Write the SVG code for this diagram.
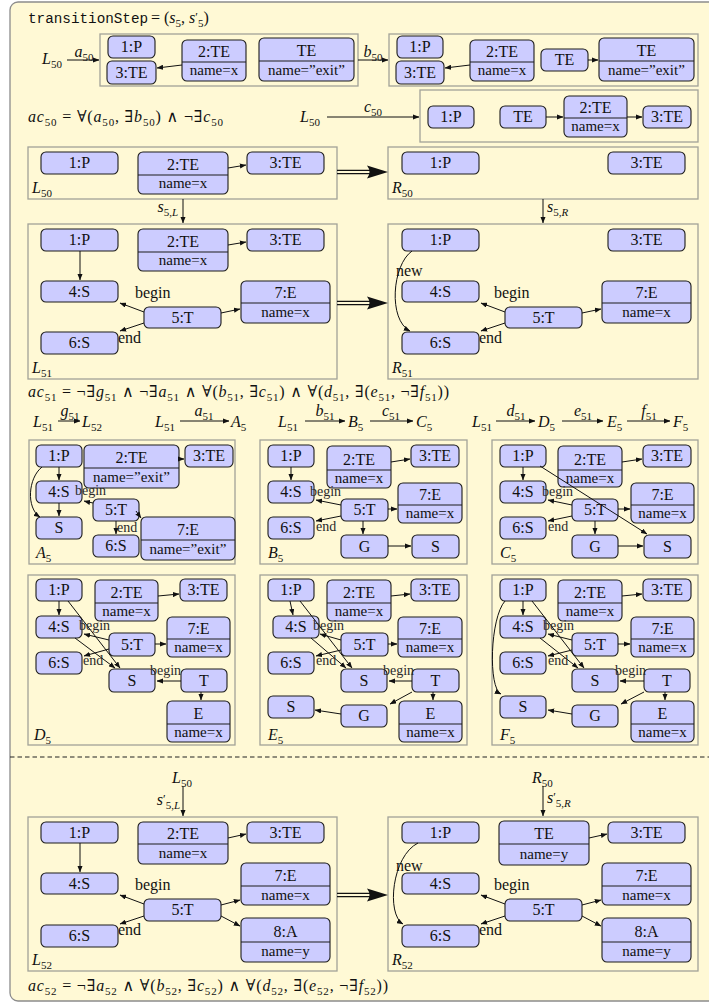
<svg xmlns="http://www.w3.org/2000/svg" width="709" height="1004" viewBox="0 0 709 1004">
<style>
text{font-family:"Liberation Serif","DejaVu Serif",serif;fill:#111}
.n{fill:#ccccff;stroke:#1c1c1c;stroke-width:1.1;rx:5px;ry:5px}
.dv{stroke:#1c1c1c;stroke-width:1.1}
.gb{fill:#fff9d5;stroke:#a2a298;stroke-width:1.3}
.t{font-size:16px;text-anchor:middle}
.tn{font-size:15px;text-anchor:middle}
.m{font-size:16px}
.i{font-style:italic}
.s{font-size:11px;baseline-shift:-3.5px}
.p{font-size:12px;baseline-shift:2px}
.c{text-anchor:middle}
.lb{font-size:16px}
.ls{font-size:14px;fill:#2a2a2a}
.e{fill:none;stroke:#111;stroke-width:1;marker-end:url(#ah)}
</style>
<defs>
<marker id="ah" viewBox="0 0 10 8" refX="9.5" refY="4" markerWidth="6.5" markerHeight="5.2" markerUnits="userSpaceOnUse" orient="auto"><path d="M0,0 L10,4 L0,8 Z" fill="#111"/></marker>
<g id="impl"><path d="M0,-1.7 H33 M0,1.7 H33" stroke="#111" stroke-width="1.2" fill="none"/><path d="M51,0 L30,-6.5 Q35,0 30,6.5 Z" fill="#111"/></g>
</defs>

<!-- sheet -->
<rect x="10" y="2" width="720" height="999" rx="8" fill="#fff9d5" stroke="#8c8c8c" stroke-width="1.3"/>

<!-- header -->
<text x="28" y="23" style="font-family:'Liberation Mono','DejaVu Sans Mono',monospace;font-size:14.3px">transitionStep</text>
<text class="m" x="151" y="23">= (<tspan class="i">s</tspan><tspan class="s">5</tspan>, <tspan class="i">s</tspan><tspan class="p">′</tspan><tspan class="s">5</tspan>)</text>

<!-- graph frames -->
<g id="box-a50"><rect class="gb" x="100" y="34" width="258" height="52"/></g>
<g id="box-b50"><rect class="gb" x="389" y="34" width="309" height="52"/></g>
<g id="box-c50"><rect class="gb" x="420" y="90" width="278" height="52"/></g>
<g id="box-L50"><rect class="gb" x="28" y="147" width="309" height="52"/><text class="m" x="32" y="193"><tspan class="i">L</tspan><tspan class="s">50</tspan></text></g>
<g id="box-R50"><rect class="gb" x="388" y="147" width="310" height="52"/><text class="m" x="392" y="193"><tspan class="i">R</tspan><tspan class="s">50</tspan></text></g>
<g id="box-L51"><rect class="gb" x="28" y="224" width="309" height="155"/><text class="m" x="32" y="373"><tspan class="i">L</tspan><tspan class="s">51</tspan></text></g>
<g id="box-R51"><rect class="gb" x="388" y="224" width="310" height="155"/><text class="m" x="392" y="373"><tspan class="i">R</tspan><tspan class="s">51</tspan></text></g>
<g id="box-A5"><rect class="gb" x="29" y="440" width="206" height="124"/><text class="m" x="36" y="558"><tspan class="i">A</tspan><tspan class="s">5</tspan></text></g>
<g id="box-B5"><rect class="gb" x="260" y="440" width="207" height="124"/><text class="m" x="268" y="558"><tspan class="i">B</tspan><tspan class="s">5</tspan></text></g>
<g id="box-C5"><rect class="gb" x="492" y="440" width="206" height="124"/><text class="m" x="500" y="558"><tspan class="i">C</tspan><tspan class="s">5</tspan></text></g>
<g id="box-D5"><rect class="gb" x="28" y="575" width="207" height="170"/><text class="m" x="34" y="740"><tspan class="i">D</tspan><tspan class="s">5</tspan></text></g>
<g id="box-E5"><rect class="gb" x="260" y="575" width="207" height="170"/><text class="m" x="268" y="740"><tspan class="i">E</tspan><tspan class="s">5</tspan></text></g>
<g id="box-F5"><rect class="gb" x="492" y="575" width="206" height="170"/><text class="m" x="500" y="740"><tspan class="i">F</tspan><tspan class="s">5</tspan></text></g>
<g id="box-L52"><rect class="gb" x="28" y="817" width="309" height="154"/><text class="m" x="32" y="965"><tspan class="i">L</tspan><tspan class="s">52</tspan></text></g>
<g id="box-R52"><rect class="gb" x="388" y="817" width="310" height="154"/><text class="m" x="392" y="965"><tspan class="i">R</tspan><tspan class="s">52</tspan></text></g>

<!-- formulas and morphism labels -->
<g id="formulas">
<text class="m" x="42" y="64"><tspan class="i">L</tspan><tspan class="s">50</tspan></text>
<text class="m c" x="84" y="57"><tspan class="i">a</tspan><tspan class="s">50</tspan></text>
<text class="m c" x="373" y="57"><tspan class="i">b</tspan><tspan class="s">50</tspan></text>
<text class="m" x="28" y="122" textLength="195"><tspan class="i">ac</tspan><tspan class="s">50</tspan> = ∀(<tspan class="i">a</tspan><tspan class="s">50</tspan>, ∃<tspan class="i">b</tspan><tspan class="s">50</tspan>) ∧ ¬∃<tspan class="i">c</tspan><tspan class="s">50</tspan></text>
<text class="m" x="300" y="122"><tspan class="i">L</tspan><tspan class="s">50</tspan></text>
<text class="m c" x="373" y="112"><tspan class="i">c</tspan><tspan class="s">50</tspan></text>
<text class="m" x="178" y="212" text-anchor="end"><tspan class="i">s</tspan><tspan class="s">5,<tspan class="i">L</tspan></tspan></text>
<text class="m" x="547" y="212"><tspan class="i">s</tspan><tspan class="s">5,<tspan class="i">R</tspan></tspan></text>
<text class="m" x="28" y="397" textLength="421"><tspan class="i">ac</tspan><tspan class="s">51</tspan> = ¬∃<tspan class="i">g</tspan><tspan class="s">51</tspan> ∧ ¬∃<tspan class="i">a</tspan><tspan class="s">51</tspan> ∧ ∀(<tspan class="i">b</tspan><tspan class="s">51</tspan>, ∃<tspan class="i">c</tspan><tspan class="s">51</tspan>) ∧ ∀(<tspan class="i">d</tspan><tspan class="s">51</tspan>, ∃(<tspan class="i">e</tspan><tspan class="s">51</tspan>, ¬∃<tspan class="i">f</tspan><tspan class="s">51</tspan>))</text>
<text class="m" x="33" y="427"><tspan class="i">L</tspan><tspan class="s">51</tspan></text>
<text class="m c" x="70" y="416"><tspan class="i">g</tspan><tspan class="s">51</tspan></text>
<text class="m" x="82" y="427"><tspan class="i">L</tspan><tspan class="s">52</tspan></text>
<text class="m" x="155" y="427"><tspan class="i">L</tspan><tspan class="s">51</tspan></text>
<text class="m c" x="204" y="416"><tspan class="i">a</tspan><tspan class="s">51</tspan></text>
<text class="m" x="231" y="427"><tspan class="i">A</tspan><tspan class="s">5</tspan></text>
<text class="m" x="278" y="427"><tspan class="i">L</tspan><tspan class="s">51</tspan></text>
<text class="m c" x="325" y="416"><tspan class="i">b</tspan><tspan class="s">51</tspan></text>
<text class="m" x="348" y="427"><tspan class="i">B</tspan><tspan class="s">5</tspan></text>
<text class="m c" x="391" y="416"><tspan class="i">c</tspan><tspan class="s">51</tspan></text>
<text class="m" x="416" y="427"><tspan class="i">C</tspan><tspan class="s">5</tspan></text>
<text class="m" x="472" y="427"><tspan class="i">L</tspan><tspan class="s">51</tspan></text>
<text class="m c" x="516" y="416"><tspan class="i">d</tspan><tspan class="s">51</tspan></text>
<text class="m" x="538" y="427"><tspan class="i">D</tspan><tspan class="s">5</tspan></text>
<text class="m c" x="583" y="416"><tspan class="i">e</tspan><tspan class="s">51</tspan></text>
<text class="m" x="607" y="427"><tspan class="i">E</tspan><tspan class="s">5</tspan></text>
<text class="m c" x="649" y="416"><tspan class="i">f</tspan><tspan class="s">51</tspan></text>
<text class="m" x="673" y="427"><tspan class="i">F</tspan><tspan class="s">5</tspan></text>
<text class="m" x="172" y="783"><tspan class="i">L</tspan><tspan class="s">50</tspan></text>
<text class="m" x="180" y="805" text-anchor="end"><tspan class="i">s</tspan><tspan class="p">′</tspan><tspan class="s">5,<tspan class="i">L</tspan></tspan></text>
<text class="m" x="532" y="783"><tspan class="i">R</tspan><tspan class="s">50</tspan></text>
<text class="m" x="547" y="803"><tspan class="i">s</tspan><tspan class="p">′</tspan><tspan class="s">5,<tspan class="i">R</tspan></tspan></text>
<text class="m" x="28" y="991" textLength="360"><tspan class="i">ac</tspan><tspan class="s">52</tspan> = ¬∃<tspan class="i">a</tspan><tspan class="s">52</tspan> ∧ ∀(<tspan class="i">b</tspan><tspan class="s">52</tspan>, ∃<tspan class="i">c</tspan><tspan class="s">52</tspan>) ∧ ∀(<tspan class="i">d</tspan><tspan class="s">52</tspan>, ∃(<tspan class="i">e</tspan><tspan class="s">52</tspan>, ¬∃<tspan class="i">f</tspan><tspan class="s">52</tspan>))</text>
</g>

<!-- nodes: a50 -->
<g id="a50-1P"><rect class="n" x="108" y="36" width="47" height="22"/><text class="t" x="131.5" y="52">1:P</text></g>
<g id="a50-3TE"><rect class="n" x="107" y="61" width="49" height="23"/><text class="t" x="131.5" y="78">3:TE</text></g>
<g id="a50-2TE"><rect class="n" x="182" y="40" width="64" height="41"/><line class="dv" x1="182" y1="62" x2="246" y2="62"/><text class="t" x="214" y="57">2:TE</text><text class="tn" x="214" y="75">name=x</text></g>
<g id="a50-TE"><rect class="n" x="259" y="38" width="95" height="43"/><line class="dv" x1="259" y1="61" x2="354" y2="61"/><text class="t" x="306.5" y="56">TE</text><text class="tn" x="306.5" y="75">name=”exit”</text></g>
<!-- nodes: b50 -->
<g id="b50-1P"><rect class="n" x="397" y="36" width="46" height="22"/><text class="t" x="420" y="52">1:P</text></g>
<g id="b50-3TE"><rect class="n" x="396" y="61" width="48" height="23"/><text class="t" x="420" y="78">3:TE</text></g>
<g id="b50-2TE"><rect class="n" x="470" y="40" width="64" height="41"/><line class="dv" x1="470" y1="62" x2="534" y2="62"/><text class="t" x="502" y="57">2:TE</text><text class="tn" x="502" y="75">name=x</text></g>
<g id="b50-TE"><rect class="n" x="541" y="49" width="47" height="22"/><text class="t" x="564.5" y="65">TE</text></g>
<g id="b50-TEx"><rect class="n" x="599" y="38" width="95" height="43"/><line class="dv" x1="599" y1="61" x2="694" y2="61"/><text class="t" x="646.5" y="56">TE</text><text class="tn" x="646.5" y="75">name=”exit”</text></g>
<!-- nodes: c50 -->
<g id="c50-1P"><rect class="n" x="428" y="106" width="46" height="22"/><text class="t" x="451" y="122">1:P</text></g>
<g id="c50-TE"><rect class="n" x="500" y="106" width="46" height="22"/><text class="t" x="523" y="122">TE</text></g>
<g id="c50-2TE"><rect class="n" x="564" y="96" width="63" height="41"/><line class="dv" x1="564" y1="118" x2="627" y2="118"/><text class="t" x="595.5" y="113">2:TE</text><text class="tn" x="595.5" y="131">name=x</text></g>
<g id="c50-3TE"><rect class="n" x="643" y="106" width="48" height="22"/><text class="t" x="667" y="122">3:TE</text></g>
<!-- nodes: L50 / R50 -->
<g id="L50-1P"><rect class="n" x="41" y="152" width="77" height="22"/><text class="t" x="79.5" y="168">1:P</text></g>
<g id="L50-2TE"><rect class="n" x="138" y="152" width="90" height="42"/><line class="dv" x1="138" y1="175" x2="228" y2="175"/><text class="t" x="183" y="170">2:TE</text><text class="tn" x="183" y="188">name=x</text></g>
<g id="L50-3TE"><rect class="n" x="247" y="152" width="77" height="22"/><text class="t" x="285.5" y="168">3:TE</text></g>
<g id="R50-1P"><rect class="n" x="402" y="152" width="77" height="22"/><text class="t" x="440.5" y="168">1:P</text></g>
<g id="R50-3TE"><rect class="n" x="608" y="152" width="77" height="22"/><text class="t" x="646.5" y="168">3:TE</text></g>
<!-- nodes: L51 -->
<g id="L51-1P"><rect class="n" x="41" y="229" width="77" height="22"/><text class="t" x="79.5" y="245">1:P</text></g>
<g id="L51-2TE"><rect class="n" x="138" y="229" width="90" height="42"/><line class="dv" x1="138" y1="252" x2="228" y2="252"/><text class="t" x="183" y="247">2:TE</text><text class="tn" x="183" y="265">name=x</text></g>
<g id="L51-3TE"><rect class="n" x="247" y="229" width="77" height="22"/><text class="t" x="285.5" y="245">3:TE</text></g>
<g id="L51-4S"><rect class="n" x="41" y="281" width="77" height="21"/><text class="t" x="79.5" y="297">4:S</text></g>
<g id="L51-5T"><rect class="n" x="144" y="307" width="77" height="21"/><text class="t" x="182.5" y="323">5:T</text></g>
<g id="L51-7E"><rect class="n" x="241" y="281" width="89" height="42"/><line class="dv" x1="241" y1="303" x2="330" y2="303"/><text class="t" x="285.5" y="298">7:E</text><text class="tn" x="285.5" y="317">name=x</text></g>
<g id="L51-6S"><rect class="n" x="41" y="332" width="77" height="22"/><text class="t" x="79.5" y="348">6:S</text></g>
<!-- nodes: R51 -->
<g id="R51-1P"><rect class="n" x="402" y="229" width="77" height="22"/><text class="t" x="440.5" y="245">1:P</text></g>
<g id="R51-3TE"><rect class="n" x="608" y="229" width="77" height="22"/><text class="t" x="646.5" y="245">3:TE</text></g>
<g id="R51-4S"><rect class="n" x="402" y="281" width="77" height="21"/><text class="t" x="440.5" y="297">4:S</text></g>
<g id="R51-5T"><rect class="n" x="505" y="307" width="77" height="21"/><text class="t" x="543.5" y="323">5:T</text></g>
<g id="R51-7E"><rect class="n" x="602" y="281" width="89" height="42"/><line class="dv" x1="602" y1="303" x2="691" y2="303"/><text class="t" x="646.5" y="298">7:E</text><text class="tn" x="646.5" y="317">name=x</text></g>
<g id="R51-6S"><rect class="n" x="402" y="332" width="77" height="22"/><text class="t" x="440.5" y="348">6:S</text></g>
<!-- nodes: A5 -->
<g id="A5-1P"><rect class="n" x="36" y="445" width="46" height="22"/><text class="t" x="59" y="461">1:P</text></g>
<g id="A5-2TE"><rect class="n" x="84" y="445" width="95" height="43"/><line class="dv" x1="84" y1="468" x2="179" y2="468"/><text class="t" x="131.5" y="463">2:TE</text><text class="tn" x="131.5" y="482">name=”exit”</text></g>
<g id="A5-3TE"><rect class="n" x="185" y="445" width="48" height="22"/><text class="t" x="209" y="461">3:TE</text></g>
<g id="A5-4S"><rect class="n" x="36" y="481" width="46" height="22"/><text class="t" x="59" y="497">4:S</text></g>
<g id="A5-S"><rect class="n" x="36" y="517" width="46" height="22"/><text class="t" x="59" y="533">S</text></g>
<g id="A5-5T"><rect class="n" x="93" y="499" width="46" height="22"/><text class="t" x="116" y="515">5:T</text></g>
<g id="A5-6S"><rect class="n" x="93" y="535" width="46" height="22"/><text class="t" x="116" y="551">6:S</text></g>
<g id="A5-7E"><rect class="n" x="141" y="517" width="94" height="43"/><line class="dv" x1="141" y1="540" x2="235" y2="540"/><text class="t" x="188" y="535">7:E</text><text class="tn" x="188" y="554">name=”exit”</text></g>
<!-- nodes: B5 -->
<g id="B5-1P"><rect class="n" x="268" y="445" width="46" height="22"/><text class="t" x="291" y="461">1:P</text></g>
<g id="B5-2TE"><rect class="n" x="327" y="446" width="64" height="42"/><line class="dv" x1="327" y1="470" x2="391" y2="470"/><text class="t" x="359" y="465">2:TE</text><text class="tn" x="359" y="483">name=x</text></g>
<g id="B5-3TE"><rect class="n" x="411" y="445" width="48" height="22"/><text class="t" x="435" y="461">3:TE</text></g>
<g id="B5-4S"><rect class="n" x="268" y="481" width="46" height="22"/><text class="t" x="291" y="497">4:S</text></g>
<g id="B5-5T"><rect class="n" x="341" y="499" width="47" height="22"/><text class="t" x="364.5" y="515">5:T</text></g>
<g id="B5-7E"><rect class="n" x="398" y="483" width="64" height="40"/><line class="dv" x1="398" y1="505" x2="462" y2="505"/><text class="t" x="430" y="500">7:E</text><text class="tn" x="430" y="518">name=x</text></g>
<g id="B5-6S"><rect class="n" x="268" y="517" width="46" height="22"/><text class="t" x="291" y="533">6:S</text></g>
<g id="B5-G"><rect class="n" x="341" y="535" width="47" height="23"/><text class="t" x="364.5" y="552">G</text></g>
<g id="B5-S"><rect class="n" x="412" y="535" width="47" height="23"/><text class="t" x="435.5" y="552">S</text></g>
<!-- nodes: C5 -->
<g id="C5-1P"><rect class="n" x="500" y="445" width="46" height="22"/><text class="t" x="523" y="461">1:P</text></g>
<g id="C5-2TE"><rect class="n" x="558" y="446" width="64" height="41"/><line class="dv" x1="558" y1="470" x2="622" y2="470"/><text class="t" x="590" y="465">2:TE</text><text class="tn" x="590" y="483">name=x</text></g>
<g id="C5-3TE"><rect class="n" x="643" y="445" width="48" height="22"/><text class="t" x="667" y="461">3:TE</text></g>
<g id="C5-4S"><rect class="n" x="500" y="481" width="46" height="22"/><text class="t" x="523" y="497">4:S</text></g>
<g id="C5-5T"><rect class="n" x="572" y="499" width="46" height="22"/><text class="t" x="595" y="515">5:T</text></g>
<g id="C5-7E"><rect class="n" x="631" y="483" width="63" height="40"/><line class="dv" x1="631" y1="505" x2="694" y2="505"/><text class="t" x="662.5" y="500">7:E</text><text class="tn" x="662.5" y="518">name=x</text></g>
<g id="C5-6S"><rect class="n" x="500" y="517" width="46" height="22"/><text class="t" x="523" y="533">6:S</text></g>
<g id="C5-G"><rect class="n" x="572" y="535" width="46" height="23"/><text class="t" x="595" y="552">G</text></g>
<g id="C5-S"><rect class="n" x="644" y="535" width="47" height="23"/><text class="t" x="667.5" y="552">S</text></g>
<!-- nodes: D5 -->
<g id="D5-1P"><rect class="n" x="36" y="579" width="46" height="22"/><text class="t" x="59" y="595">1:P</text></g>
<g id="D5-2TE"><rect class="n" x="95" y="580" width="63" height="41"/><line class="dv" x1="95" y1="603" x2="158" y2="603"/><text class="t" x="126.5" y="598">2:TE</text><text class="tn" x="126.5" y="616">name=x</text></g>
<g id="D5-3TE"><rect class="n" x="180" y="579" width="47" height="22"/><text class="t" x="203.5" y="595">3:TE</text></g>
<g id="D5-4S"><rect class="n" x="36" y="616" width="46" height="22"/><text class="t" x="59" y="632">4:S</text></g>
<g id="D5-5T"><rect class="n" x="109" y="633" width="46" height="23"/><text class="t" x="132" y="650">5:T</text></g>
<g id="D5-7E"><rect class="n" x="167" y="617" width="63" height="40"/><line class="dv" x1="167" y1="639" x2="230" y2="639"/><text class="t" x="198.5" y="634">7:E</text><text class="tn" x="198.5" y="652">name=x</text></g>
<g id="D5-6S"><rect class="n" x="36" y="652" width="46" height="22"/><text class="t" x="59" y="668">6:S</text></g>
<g id="D5-S"><rect class="n" x="109" y="669" width="46" height="23"/><text class="t" x="132" y="686">S</text></g>
<g id="D5-T"><rect class="n" x="181" y="669" width="46" height="23"/><text class="t" x="204" y="686">T</text></g>
<g id="D5-E"><rect class="n" x="167" y="701" width="63" height="41"/><line class="dv" x1="167" y1="724" x2="230" y2="724"/><text class="t" x="198.5" y="719">E</text><text class="tn" x="198.5" y="737">name=x</text></g>
<!-- nodes: E5 -->
<g id="E5-1P"><rect class="n" x="268" y="579" width="46" height="22"/><text class="t" x="291" y="595">1:P</text></g>
<g id="E5-2TE"><rect class="n" x="327" y="580" width="64" height="41"/><line class="dv" x1="327" y1="603" x2="391" y2="603"/><text class="t" x="359" y="598">2:TE</text><text class="tn" x="359" y="616">name=x</text></g>
<g id="E5-3TE"><rect class="n" x="411" y="579" width="48" height="22"/><text class="t" x="435" y="595">3:TE</text></g>
<g id="E5-4S"><rect class="n" x="273" y="616" width="46" height="22"/><text class="t" x="296" y="632">4:S</text></g>
<g id="E5-5T"><rect class="n" x="341" y="633" width="47" height="23"/><text class="t" x="364.5" y="650">5:T</text></g>
<g id="E5-7E"><rect class="n" x="398" y="617" width="64" height="40"/><line class="dv" x1="398" y1="639" x2="462" y2="639"/><text class="t" x="430" y="634">7:E</text><text class="tn" x="430" y="652">name=x</text></g>
<g id="E5-6S"><rect class="n" x="268" y="652" width="46" height="22"/><text class="t" x="291" y="668">6:S</text></g>
<g id="E5-S"><rect class="n" x="341" y="669" width="46" height="23"/><text class="t" x="364" y="686">S</text></g>
<g id="E5-T"><rect class="n" x="412" y="669" width="47" height="23"/><text class="t" x="435.5" y="686">T</text></g>
<g id="E5-E"><rect class="n" x="399" y="701" width="63" height="41"/><line class="dv" x1="399" y1="724" x2="462" y2="724"/><text class="t" x="430.5" y="719">E</text><text class="tn" x="430.5" y="737">name=x</text></g>
<g id="E5-S2"><rect class="n" x="268" y="696" width="46" height="22"/><text class="t" x="291" y="712">S</text></g>
<g id="E5-G"><rect class="n" x="341" y="705" width="46" height="22"/><text class="t" x="364" y="721">G</text></g>
<!-- nodes: F5 -->
<g id="F5-1P"><rect class="n" x="500" y="579" width="46" height="22"/><text class="t" x="523" y="595">1:P</text></g>
<g id="F5-2TE"><rect class="n" x="558" y="580" width="64" height="41"/><line class="dv" x1="558" y1="603" x2="622" y2="603"/><text class="t" x="590" y="598">2:TE</text><text class="tn" x="590" y="616">name=x</text></g>
<g id="F5-3TE"><rect class="n" x="643" y="579" width="48" height="22"/><text class="t" x="667" y="595">3:TE</text></g>
<g id="F5-4S"><rect class="n" x="500" y="616" width="46" height="22"/><text class="t" x="523" y="632">4:S</text></g>
<g id="F5-5T"><rect class="n" x="572" y="633" width="46" height="23"/><text class="t" x="595" y="650">5:T</text></g>
<g id="F5-7E"><rect class="n" x="631" y="617" width="63" height="40"/><line class="dv" x1="631" y1="639" x2="694" y2="639"/><text class="t" x="662.5" y="634">7:E</text><text class="tn" x="662.5" y="652">name=x</text></g>
<g id="F5-6S"><rect class="n" x="500" y="652" width="46" height="22"/><text class="t" x="523" y="668">6:S</text></g>
<g id="F5-S"><rect class="n" x="572" y="669" width="46" height="23"/><text class="t" x="595" y="686">S</text></g>
<g id="F5-T"><rect class="n" x="644" y="669" width="46" height="23"/><text class="t" x="667" y="686">T</text></g>
<g id="F5-E"><rect class="n" x="631" y="701" width="63" height="41"/><line class="dv" x1="631" y1="724" x2="694" y2="724"/><text class="t" x="662.5" y="719">E</text><text class="tn" x="662.5" y="737">name=x</text></g>
<g id="F5-S2"><rect class="n" x="500" y="696" width="46" height="22"/><text class="t" x="523" y="712">S</text></g>
<g id="F5-G"><rect class="n" x="572" y="705" width="46" height="22"/><text class="t" x="595" y="721">G</text></g>
<!-- nodes: L52 -->
<g id="L52-1P"><rect class="n" x="41" y="822" width="77" height="21"/><text class="t" x="79.5" y="838">1:P</text></g>
<g id="L52-2TE"><rect class="n" x="138" y="822" width="90" height="42"/><line class="dv" x1="138" y1="844" x2="228" y2="844"/><text class="t" x="183" y="839">2:TE</text><text class="tn" x="183" y="858">name=x</text></g>
<g id="L52-3TE"><rect class="n" x="247" y="822" width="77" height="21"/><text class="t" x="285.5" y="838">3:TE</text></g>
<g id="L52-4S"><rect class="n" x="41" y="873" width="77" height="21"/><text class="t" x="79.5" y="889">4:S</text></g>
<g id="L52-7E"><rect class="n" x="241" y="863" width="89" height="42"/><line class="dv" x1="241" y1="886" x2="330" y2="886"/><text class="t" x="285.5" y="881">7:E</text><text class="tn" x="285.5" y="900">name=x</text></g>
<g id="L52-5T"><rect class="n" x="144" y="899" width="77" height="22"/><text class="t" x="182.5" y="915">5:T</text></g>
<g id="L52-8A"><rect class="n" x="241" y="918" width="89" height="44"/><line class="dv" x1="241" y1="942" x2="330" y2="942"/><text class="t" x="285.5" y="937">8:A</text><text class="tn" x="285.5" y="956">name=y</text></g>
<g id="L52-6S"><rect class="n" x="41" y="925" width="77" height="22"/><text class="t" x="79.5" y="941">6:S</text></g>
<!-- nodes: R52 -->
<g id="R52-1P"><rect class="n" x="402" y="822" width="77" height="21"/><text class="t" x="440.5" y="838">1:P</text></g>
<g id="R52-TE"><rect class="n" x="499" y="821" width="90" height="44"/><line class="dv" x1="499" y1="844" x2="589" y2="844"/><text class="t" x="544" y="839">TE</text><text class="tn" x="544" y="859">name=y</text></g>
<g id="R52-3TE"><rect class="n" x="608" y="822" width="77" height="21"/><text class="t" x="646.5" y="838">3:TE</text></g>
<g id="R52-4S"><rect class="n" x="402" y="873" width="77" height="21"/><text class="t" x="440.5" y="889">4:S</text></g>
<g id="R52-7E"><rect class="n" x="602" y="863" width="89" height="42"/><line class="dv" x1="602" y1="886" x2="691" y2="886"/><text class="t" x="646.5" y="881">7:E</text><text class="tn" x="646.5" y="900">name=x</text></g>
<g id="R52-5T"><rect class="n" x="505" y="899" width="77" height="22"/><text class="t" x="543.5" y="915">5:T</text></g>
<g id="R52-8A"><rect class="n" x="602" y="918" width="89" height="44"/><line class="dv" x1="602" y1="942" x2="691" y2="942"/><text class="t" x="646.5" y="937">8:A</text><text class="tn" x="646.5" y="956">name=y</text></g>
<g id="R52-6S"><rect class="n" x="402" y="925" width="77" height="22"/><text class="t" x="440.5" y="941">6:S</text></g>

<!-- separator -->
<line x1="10" y1="757" x2="709" y2="757" stroke="#222" stroke-width="1.1" stroke-dasharray="4.5 3"/>

<!-- connectors -->
<g id="connectors">
<path class="e" d="M67,60 L99,60"/>
<path class="e" d="M358,60 L388,60"/>
<path class="e" d="M327,117 L419,117"/>
<path class="e" d="M182,65 L157,68"/>
<path class="e" d="M470,65 L445,68"/>
<path class="e" d="M588,60 L598,60"/>
<path class="e" d="M546,117 L563,117"/>
<path class="e" d="M627,117 L642,117"/>
<path class="e" d="M228,168 L246,165"/>
<use href="#impl" x="337" y="172"/>
<path class="e" d="M183,199 L183,223"/>
<path class="e" d="M543,199 L543,223"/>
<!-- L51 -->
<path class="e" d="M228,245 L246,242"/>
<path class="e" d="M80,251 L80,280"/>
<path class="e" d="M144,312 L120,303"/>
<path class="e" d="M144,323 L120,331"/>
<path class="e" d="M221,313 L240,309"/>
<text class="lb" x="135" y="298">begin</text>
<text class="lb" x="118" y="343">end</text>
<use href="#impl" x="337" y="303"/>
<!-- R51 -->
<path class="e" d="M505,312 L481,303"/>
<path class="e" d="M505,323 L481,331"/>
<path class="e" d="M582,313 L601,309"/>
<path class="e" d="M412,251 C392,265 388,320 410,331"/>
<text class="lb" x="396" y="276">new</text>
<text class="lb" x="494" y="298">begin</text>
<text class="lb" x="479" y="343">end</text>
<!-- morphism row -->
<path class="e" d="M58,421 L80,421"/>
<path class="e" d="M180,421 L229,421"/>
<path class="e" d="M305,421 L345,421"/>
<path class="e" d="M370,421 L413,421"/>
<path class="e" d="M496,421 L535,421"/>
<path class="e" d="M562,421 L603,421"/>
<path class="e" d="M627,421 L670,421"/>
<!-- A5 -->
<path class="e" d="M59,467 L59,480"/>
<path class="e" d="M59,503 L59,516"/>
<path class="e" d="M42,467 C28,478 26,508 40,517"/>
<path class="e" d="M178,459 L184,459"/>
<path class="e" d="M93,503 L84,501"/>
<path class="e" d="M136,511 L141,518"/>
<path class="e" d="M116,521 L116,534"/>
<text class="ls" x="75" y="495">begin</text>
<text class="ls" x="117" y="532">end</text>
<!-- B5 -->
<path class="e" d="M291,467 L291,480"/>
<path class="e" d="M391,462 L410,459"/>
<path class="e" d="M341,505 L316,500"/>
<path class="e" d="M341,516 L316,521"/>
<path class="e" d="M388,509 L397,509"/>
<path class="e" d="M363,521 L363,534"/>
<path class="e" d="M388,546 L411,546"/>
<text class="ls" x="310" y="496">begin</text>
<text class="ls" x="316" y="531">end</text>
<!-- C5 -->
<path class="e" d="M523,467 L523,480"/>
<path class="e" d="M622,462 L642,459"/>
<path class="e" d="M572,505 L548,500"/>
<path class="e" d="M572,516 L548,521"/>
<path class="e" d="M618,509 L630,509"/>
<path class="e" d="M595,521 L595,534"/>
<path class="e" d="M618,546 L643,546"/>
<path class="e" d="M540,466 L647,534"/>
<text class="ls" x="542" y="496">begin</text>
<text class="ls" x="548" y="531">end</text>
<!-- D5 -->
<path class="e" d="M59,601 L59,615"/>
<path class="e" d="M158,596 L179,594"/>
<path class="e" d="M109,640 L84,634"/>
<path class="e" d="M109,649 L84,656"/>
<path class="e" d="M155,644 L166,644"/>
<path class="e" d="M68,601 L120,668"/>
<path class="e" d="M75,638 L115,668"/>
<path class="e" d="M181,681 L157,681"/>
<path class="e" d="M201,692 L201,700"/>
<text class="ls" x="79" y="630">begin</text>
<text class="ls" x="83" y="665">end</text>
<text class="ls" x="150" y="675">begin</text>
<!-- E5 -->
<path class="e" d="M290,601 L293,615"/>
<path class="e" d="M391,596 L410,594"/>
<path class="e" d="M300,601 L352,668"/>
<path class="e" d="M311,638 L346,668"/>
<path class="e" d="M341,640 L320,634"/>
<path class="e" d="M341,650 L316,656"/>
<path class="e" d="M388,644 L397,644"/>
<path class="e" d="M412,681 L389,681"/>
<path class="e" d="M412,692 L390,704"/>
<path class="e" d="M433,692 L433,700"/>
<path class="e" d="M341,714 L315,710"/>
<text class="ls" x="313" y="630">begin</text>
<text class="ls" x="316" y="665">end</text>
<text class="ls" x="383" y="675">begin</text>
<!-- F5 -->
<path class="e" d="M523,601 L523,615"/>
<path class="e" d="M622,596 L642,594"/>
<path class="e" d="M532,601 L584,668"/>
<path class="e" d="M540,638 L578,668"/>
<path class="e" d="M572,640 L548,634"/>
<path class="e" d="M572,650 L548,656"/>
<path class="e" d="M618,644 L630,644"/>
<path class="e" d="M644,681 L620,681"/>
<path class="e" d="M644,692 L621,704"/>
<path class="e" d="M665,692 L665,700"/>
<path class="e" d="M572,714 L548,710"/>
<path class="e" d="M505,601 C490,618 488,688 501,694"/>
<text class="ls" x="543" y="630">begin</text>
<text class="ls" x="548" y="665">end</text>
<text class="ls" x="615" y="675">begin</text>
<!-- L52 / R52 -->
<path class="e" d="M183,786 L183,816"/>
<path class="e" d="M543,786 L543,816"/>
<path class="e" d="M228,838 L246,834"/>
<path class="e" d="M80,843 L80,872"/>
<path class="e" d="M144,904 L120,895"/>
<path class="e" d="M144,916 L120,924"/>
<path class="e" d="M221,905 L240,900"/>
<path class="e" d="M221,916 L240,926"/>
<text class="lb" x="135" y="890">begin</text>
<text class="lb" x="118" y="935">end</text>
<use href="#impl" x="337" y="895"/>
<path class="e" d="M589,838 L607,834"/>
<path class="e" d="M505,904 L481,895"/>
<path class="e" d="M505,916 L481,924"/>
<path class="e" d="M582,905 L601,900"/>
<path class="e" d="M582,916 L601,926"/>
<path class="e" d="M418,843 C392,856 386,914 403,924"/>
<text class="lb" x="396" y="871">new</text>
<text class="lb" x="494" y="890">begin</text>
<text class="lb" x="479" y="935">end</text>
</g>
</svg>
